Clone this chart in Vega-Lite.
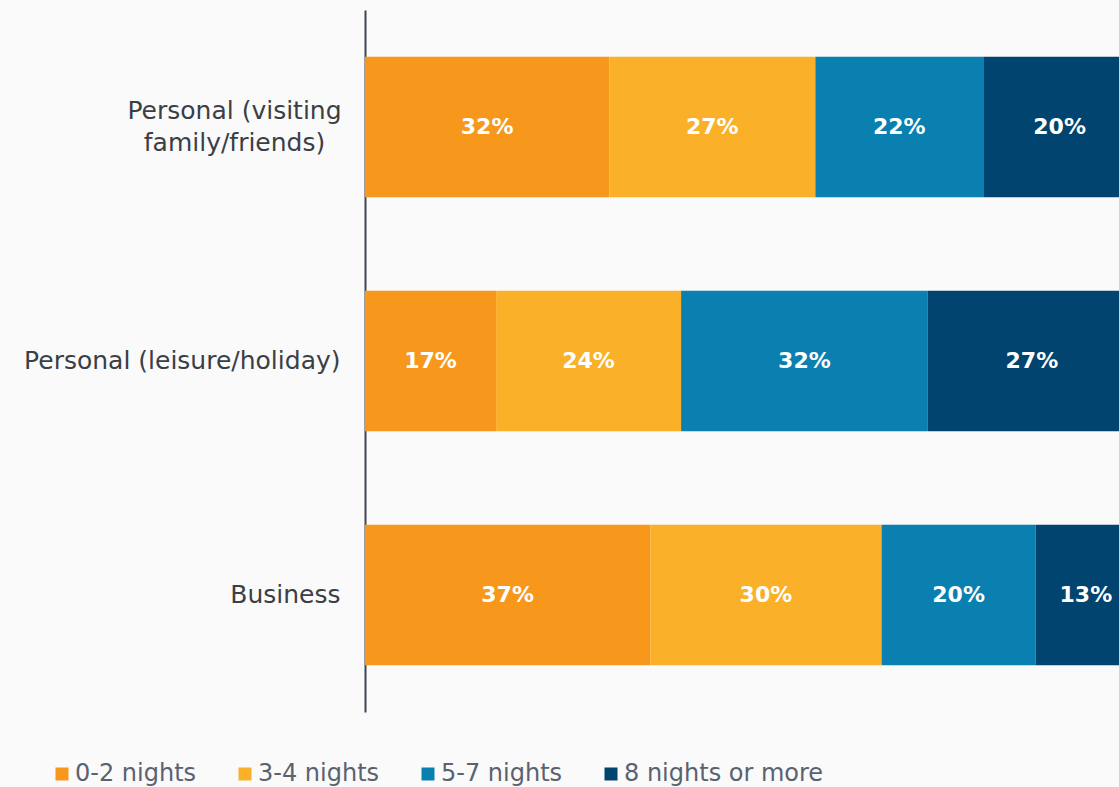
{
  "$schema": "https://vega.github.io/schema/vega-lite/v6.json",
  "width": 754,
  "height": 702,
  "autosize": {"type": "none"},
  "padding": {"left": 365, "top": 10, "right": 0, "bottom": 75},
  "background": "#FAFAFA",
  "config": {
    "view": {"stroke": null},
    "font": "DejaVu Sans"
  },
  "data": {
    "values": [
      {"purpose": "Personal (visiting family/friends)", "nights": "0-2 nights", "share": 0.32},
      {"purpose": "Personal (visiting family/friends)", "nights": "3-4 nights", "share": 0.27},
      {"purpose": "Personal (visiting family/friends)", "nights": "5-7 nights", "share": 0.22},
      {"purpose": "Personal (visiting family/friends)", "nights": "8 nights or more", "share": 0.20},
      {"purpose": "Personal (leisure/holiday)", "nights": "0-2 nights", "share": 0.17},
      {"purpose": "Personal (leisure/holiday)", "nights": "3-4 nights", "share": 0.24},
      {"purpose": "Personal (leisure/holiday)", "nights": "5-7 nights", "share": 0.32},
      {"purpose": "Personal (leisure/holiday)", "nights": "8 nights or more", "share": 0.27},
      {"purpose": "Business", "nights": "0-2 nights", "share": 0.37},
      {"purpose": "Business", "nights": "3-4 nights", "share": 0.30},
      {"purpose": "Business", "nights": "5-7 nights", "share": 0.20},
      {"purpose": "Business", "nights": "8 nights or more", "share": 0.13}
    ]
  },
  "transform": [
    {"stack": "share", "groupby": ["purpose"], "sort": [{"field": "nights", "order": "ascending"}], "offset": "normalize", "as": ["x0", "x1"]}
  ],
  "encoding": {
    "y": {
      "field": "purpose",
      "type": "nominal",
      "sort": ["Personal (visiting family/friends)", "Personal (leisure/holiday)", "Business"],
      "scale": {"paddingInner": 0.4, "paddingOuter": 0.2},
      "axis": {
        "title": null,
        "ticks": false,
        "domainColor": "#3E4550",
        "domainWidth": 2,
        "labelFontSize": 25,
        "labelColor": "#3A3F46",
        "labelLineHeight": 32,
        "labelLimit": 400,
        "labelExpr": "datum.label == 'Personal (visiting family/friends)' ? ['Personal (visiting', 'family/friends)'] : datum.label",
        "labelAlign": {"condition": {"test": "datum.value == 'Personal (visiting family/friends)'", "value": "center"}, "value": "right"},
        "labelPadding": {"condition": {"test": "datum.value == 'Personal (visiting family/friends)'", "value": 131}, "value": 25},
        "labelOffset": {"condition": {"test": "datum.value == 'Personal (visiting family/friends)'", "value": -16}, "value": 0}
      }
    }
  },
  "layer": [
    {
      "mark": {"type": "bar", "clip": true},
      "encoding": {
        "x": {"field": "x0", "type": "quantitative", "scale": {"domain": [0, 0.978], "nice": false, "zero": true}, "axis": null},
        "x2": {"field": "x1"},
        "color": {
          "field": "nights",
          "type": "nominal",
          "scale": {
            "domain": ["0-2 nights", "3-4 nights", "5-7 nights", "8 nights or more"],
            "range": ["#F7981D", "#FBB02A", "#0A80B0", "#00446F"]
          },
          "legend": {
            "title": null,
            "orient": "none",
            "direction": "horizontal",
            "legendX": -315,
            "legendY": 752,
            "symbolType": "square",
            "symbolSize": 169,
            "symbolStrokeWidth": 0,
            "labelFontSize": 24,
            "labelColor": "#5A6270",
            "labelOffset": 1,
            "columnPadding": 36,
            "labelLimit": 300
          }
        }
      }
    },
    {
      "transform": [
        {"fold": ["x0", "x1"], "as": ["edge", "pos"]},
        {"aggregate": [{"op": "mean", "field": "pos", "as": "mid"}], "groupby": ["purpose", "nights", "share"]}
      ],
      "mark": {"type": "text", "color": "white", "fontWeight": "bold", "fontSize": 22, "align": "center", "baseline": "middle"},
      "encoding": {
        "x": {"field": "mid", "type": "quantitative"},
        "text": {"field": "share", "type": "quantitative", "format": ".0%"}
      }
    }
  ]
}
